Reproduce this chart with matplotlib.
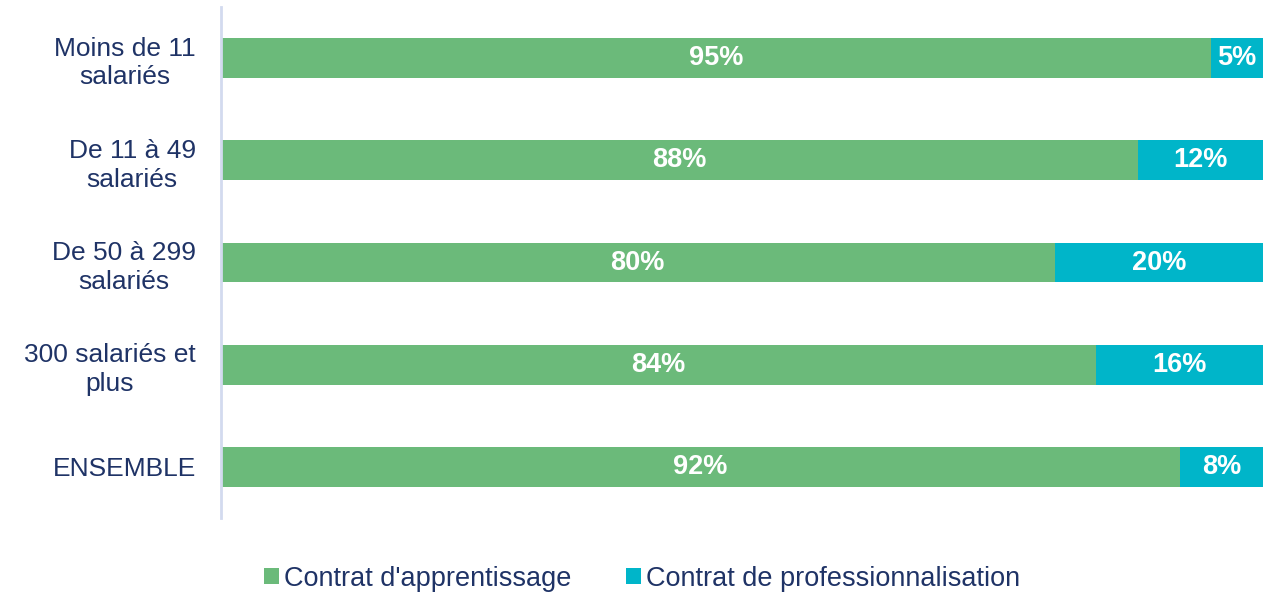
import matplotlib.pyplot as plt
import numpy as np

plt.rcParams['font.family'] = ['Liberation Sans', 'DejaVu Sans']

# donnees
categories = ['Moins de 11\nsalariés', 'De 11 à 49\nsalariés', 'De 50 à 299\nsalariés',
              '300 salariés et\nplus', 'ENSEMBLE']
apprentissage = [95, 88, 80, 84, 92]
professionnalisation = [5, 12, 20, 16, 8]
series_names = ["Contrat d'apprentissage", 'Contrat de professionnalisation']

vert = '#6BBA7A'
bleu = '#00B5C9'
texte = '#1F3366'

fig = plt.figure(figsize=(12.84, 5.93), dpi=100)
ax = fig.add_axes([0.172, 0.1265, 0.8116, 0.8615])

y = np.arange(len(categories))
h = 0.39
b1 = ax.barh(y, apprentissage, height=h, color=vert, label=series_names[0])
b2 = ax.barh(y, professionnalisation, height=h, left=apprentissage, color=bleu,
             label=series_names[1])

for i in range(len(categories)):
    ax.text(apprentissage[i] / 2, y[i], f'{apprentissage[i]}%', ha='center', va='center',
            color='white', fontsize=19.5, fontweight='bold')
    ax.text(apprentissage[i] + professionnalisation[i] / 2, y[i], f'{professionnalisation[i]}%',
            ha='center', va='center', color='white', fontsize=19.5, fontweight='bold')

ax.set_xlim(0, 100)
ax.set_ylim(len(categories) - 0.5, -0.5)
ax.set_yticks(y)
ax.set_yticklabels(categories, fontsize=19, color=texte, multialignment='center',
                   linespacing=1.25)
ax.tick_params(axis='y', length=0, pad=18)
ax.set_xticks([])
for s in ['top', 'right', 'bottom']:
    ax.spines[s].set_visible(False)
ax.spines['left'].set_color('#D3DAEF')
ax.spines['left'].set_linewidth(2)

leg = fig.legend(handles=[b1, b2], loc='center', bbox_to_anchor=(0.5, 0.024), ncol=2,
                 frameon=False, fontsize=19.5, handlelength=0.55, handleheight=0.55,
                 handletextpad=0.2, columnspacing=2.0)
for t in leg.get_texts():
    t.set_color(texte)

fig.savefig('out.png', dpi=100)
